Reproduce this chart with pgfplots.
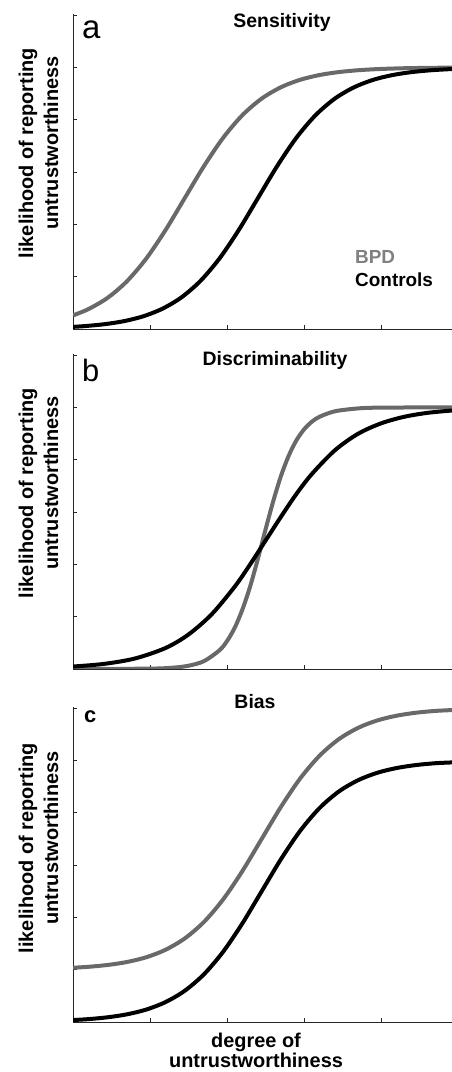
\documentclass[border=0pt]{standalone}
\usepackage{fontspec}
\setmainfont{Liberation Sans}
\usepackage{pgfplots}
\pgfplotsset{compat=1.18}

\definecolor{bpdline}{RGB}{105,105,105}
\definecolor{bpdtext}{RGB}{128,128,128}

\pgfplotsset{
  panel/.style={
    scale only axis, width=379bp, height=315bp,
    axis lines*=left, tick pos=left, tick align=inside,
    xmin=0, xmax=4.92, ymin=0, ymax=1.204,
    xtick={1,2,3,4}, ytick={0.2,0.4,0.6,0.8,1.0,1.2},
    xticklabels={}, yticklabels={},
    major tick length=4bp,
    axis line style={line width=0.9bp, black!85},
    tick style={line width=0.9bp, black!85},
  },
  bpd/.style={bpdline, line width=4bp, smooth},
  ctl/.style={black, line width=4bp, smooth},
}

\newcommand{\lab}{\fontsize{20}{24}\selectfont\bfseries}

\begin{document}
\begin{tikzpicture}
\useasboundingbox (0,0) rectangle (452bp,1072bp);

% panel a
\begin{axis}[panel, at={(73bp,743bp)}, anchor=south west]
\addplot[bpd] coordinates {(0,0.052) (0.2,0.0759) (0.45,0.1192) (0.7,0.1824) (0.95,0.2689) (1.2,0.3775) (1.45,0.5) (1.7,0.6225) (1.95,0.7311) (2.2,0.8176) (2.45,0.8808) (2.7,0.9241) (2.95,0.9526) (3.2,0.9707) (3.45,0.9820) (3.7,0.9890) (3.95,0.9933) (4.2,0.9959) (4.45,0.9975) (4.92,0.9991)};
\addplot[ctl] coordinates {(0,0.0082) (0.15,0.0110) (0.4,0.0180) (0.65,0.0293) (0.9,0.0474) (1.15,0.0759) (1.4,0.1192) (1.65,0.1824) (1.9,0.2689) (2.15,0.3775) (2.4,0.5) (2.65,0.6225) (2.9,0.7311) (3.15,0.8176) (3.4,0.8808) (3.65,0.9241) (3.9,0.9526) (4.15,0.9707) (4.4,0.9820) (4.65,0.9890) (4.92,0.9936)};
\end{axis}

% panel b
\begin{axis}[panel, at={(73bp,403bp)}, anchor=south west]
\addplot[bpd] coordinates {(0,0) (1.0,0.0014) (1.3,0.0051) (1.5,0.0125) (1.7,0.030) (1.9,0.071) (2.0,0.107) (2.1,0.158) (2.2,0.228) (2.3,0.316) (2.4,0.421) (2.5,0.534) (2.6,0.642) (2.7,0.738) (2.8,0.815) (2.9,0.874) (3.0,0.916) (3.1,0.945) (3.2,0.964) (3.4,0.985) (3.7,0.996) (4.0,0.999) (4.92,1.0)};
\addplot[ctl] coordinates {(0,0.0094) (0.4,0.0194) (0.8,0.0398) (1.2,0.080) (1.5,0.132) (1.8,0.209) (2.1,0.315) (2.3,0.400) (2.5,0.491) (2.7,0.582) (2.9,0.669) (3.1,0.745) (3.4,0.836) (3.7,0.899) (4.0,0.939) (4.3,0.964) (4.6,0.979) (4.92,0.988)};
\end{axis}

% panel c
\begin{axis}[panel, at={(73bp,50bp)}, anchor=south west]
\addplot[bpd] coordinates {(0,0.2074) (0.2,0.2110) (0.45,0.2180) (0.7,0.2293) (0.95,0.2474) (1.2,0.2759) (1.45,0.3192) (1.7,0.3824) (1.95,0.4689) (2.2,0.5775) (2.45,0.7) (2.7,0.8225) (2.95,0.9311) (3.2,1.0176) (3.45,1.0808) (3.7,1.1241) (3.95,1.1526) (4.2,1.1707) (4.45,1.1820) (4.7,1.1890) (4.92,1.1922)};
\addplot[ctl] coordinates {(0,0.0074) (0.2,0.0110) (0.45,0.0180) (0.7,0.0293) (0.95,0.0474) (1.2,0.0759) (1.45,0.1192) (1.7,0.1824) (1.95,0.2689) (2.2,0.3775) (2.45,0.5) (2.7,0.6225) (2.95,0.7311) (3.2,0.8176) (3.45,0.8808) (3.7,0.9241) (3.95,0.9526) (4.2,0.9707) (4.45,0.9820) (4.7,0.9890) (4.92,0.9922)};
\end{axis}

% titles and panel letters
\node[anchor=base, font=\fontsize{19.5}{23}\selectfont\bfseries] at (282bp,1044bp) {Sensitivity};
\node[anchor=base, font=\fontsize{19.5}{23}\selectfont\bfseries] at (275bp,706bp) {Discriminability};
\node[anchor=base, font=\fontsize{19.5}{23}\selectfont\bfseries] at (255bp,363bp) {Bias};
\node[anchor=base west, inner sep=0pt, font=\fontsize{33}{36}\selectfont] at (82bp,1033bp) {a};
\node[anchor=base west, inner sep=0pt, font=\fontsize{31}{34}\selectfont] at (82bp,690bp) {b};
\node[anchor=base west, inner sep=0pt, font=\fontsize{22}{26}\selectfont\bfseries] at (84bp,349bp) {c};

% legend in panel a
\node[anchor=base west, inner sep=0pt, text=bpdtext, font=\fontsize{19}{22}\selectfont\bfseries] at (355bp,808bp) {BPD};
\node[anchor=base west, inner sep=0pt, font=\fontsize{19}{22}\selectfont\bfseries] at (355bp,785bp) {Controls};

% y labels
\foreach \dy in {0,340,695} {
  \node[rotate=90, anchor=base, inner sep=0pt, font=\lab] at (33bp,{(919-\dy)*1bp}) {likelihood of reporting};
  \node[rotate=90, anchor=base, inner sep=0pt, font=\lab] at (58bp,{(929-\dy)*1bp}) {untrustworthiness};
}

% x label
\node[anchor=base, inner sep=0pt, font=\lab] at (256bp,25bp) {degree of};
\node[anchor=base, inner sep=0pt, font=\lab] at (256bp,5bp) {untrustworthiness};
\end{tikzpicture}
\end{document}
